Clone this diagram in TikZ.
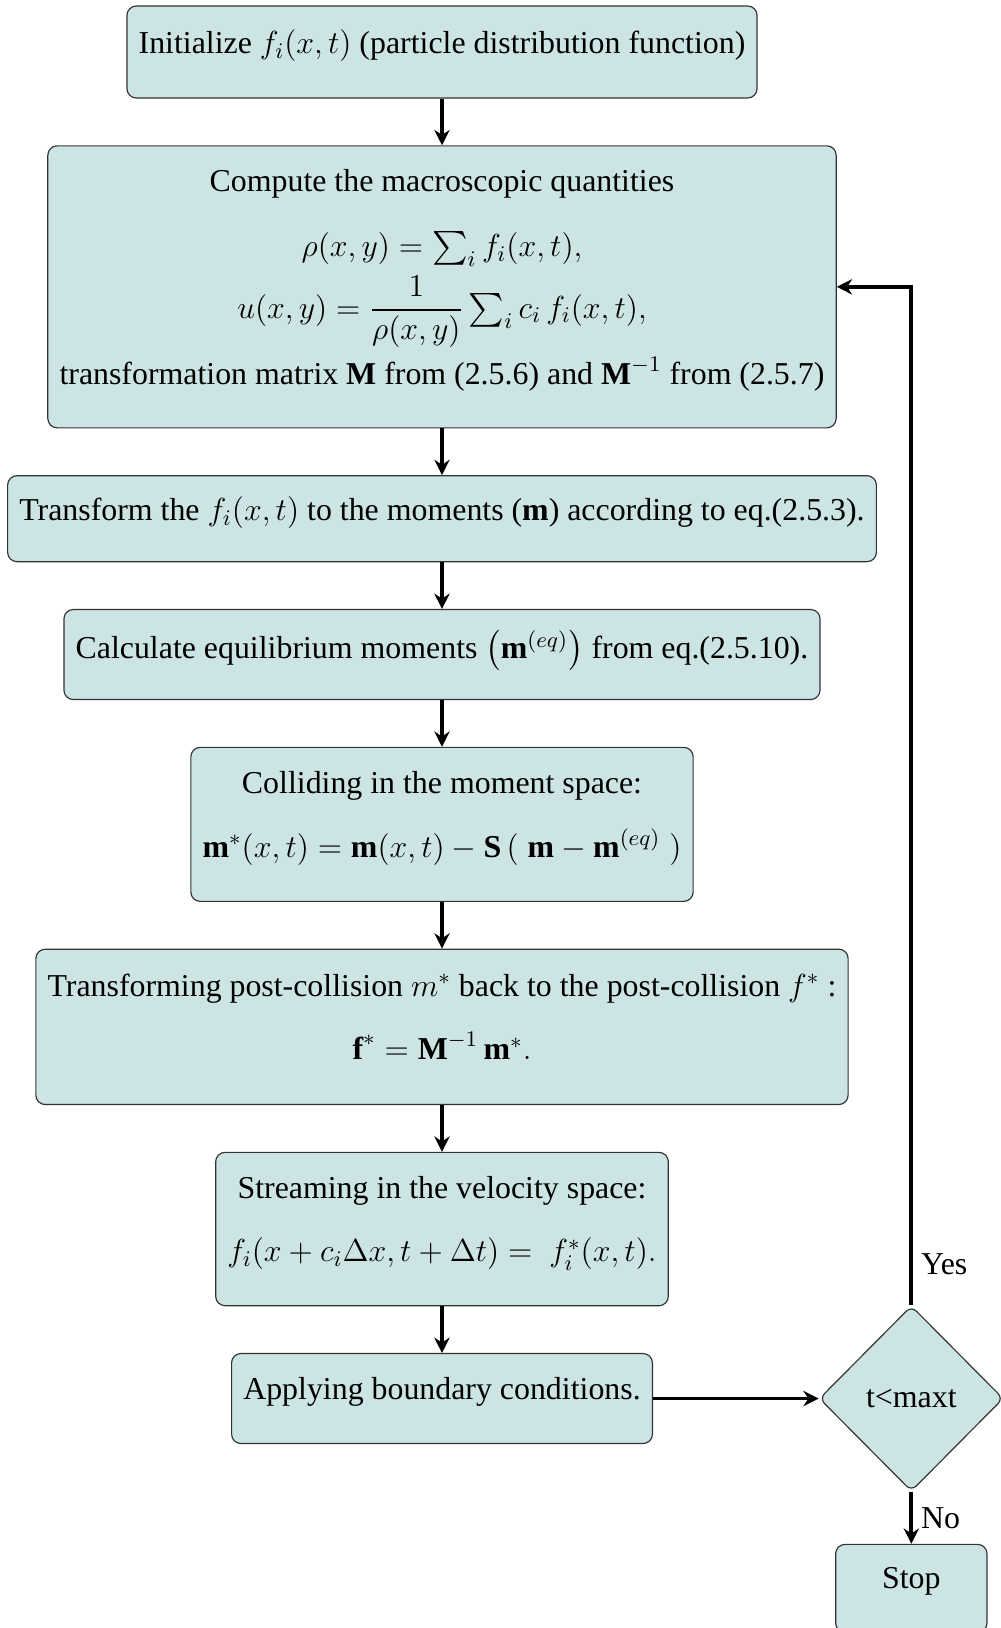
\RequirePackage{fix-cm}
\documentclass[tikz,border=0pt]{standalone}
\usepackage{amsmath}
\usepackage{fontspec}
\setmainfont{Liberation Serif}
\usetikzlibrary{positioning,shapes.geometric,arrows.meta}
\definecolor{boxfill}{RGB}{204,229,228}
\newcommand{\pad}{\rule[-3mm]{0pt}{0pt}}

\begin{document}
\begin{tikzpicture}[
    font=\fontsize{13.6}{16.5}\selectfont,
    box/.style={draw=black!80, rounded corners=4pt, fill=boxfill, align=center, line width=0.5pt, inner sep=5pt, execute at end node=\pad},
    decide/.style={draw=black!80, diamond, fill=boxfill, rounded corners=3pt, line width=0.5pt, minimum width=27.6mm, minimum height=27.8mm, inner sep=0pt},
    arrow/.style={-{Stealth[length=2.3mm,width=2.3mm]}, line width=1.6pt},
    node distance=7mm,
]
\useasboundingbox (0,0) rectangle (15,-24.42);
\node[box, minimum height=13.8mm] (init) at (6.63,-0.78) {Initialize $f_i(x,t)$ (particle distribution function)};
\node[box, below=of init, minimum height=42.3mm] (macro) {Compute the macroscopic quantities\\[4mm] $\rho(x,y)=\sum_i f_i(x,t),$\\[3pt] $u(x,y)=\dfrac{1}{\rho(x,y)}\sum_i c_i\,f_i(x,t),$\\[3pt] transformation matrix \textbf{M} from (2.5.6) and $\textbf{M}^{-1}$ from (2.5.7)};
\node[box, below=of macro, minimum height=12.9mm] (trans) {Transform the $f_i(x,t)$ to the moments ($\mathbf{m}$) according to eq.(2.5.3).};
\node[box, below=of trans, minimum height=13.5mm] (equil) {Calculate equilibrium moments $\left(\mathbf{m}^{(eq)}\right)$ from eq.(2.5.10).};
\node[box, below=of equil, minimum height=23.1mm] (collide) {Colliding in the moment space:\\[3.7mm] $\mathbf{m}^*(x,t)=\mathbf{m}(x,t)-\mathbf{S}\,(\;\mathbf{m}-\mathbf{m}^{(eq)}\;)$};
\node[box, below=of collide, minimum height=23.3mm] (post) {Transforming post-collision $m^*$ back to the post-collision $f^*$ :\\[3.7mm] $\textbf{f}^*=\textbf{M}^{-1}\,\mathbf{m}^*.$};
\node[box, below=of post, minimum height=23mm] (stream) {Streaming in the velocity space:\\[3.7mm] $f_i(x+c_i\Delta x,t+\Delta t)=\ f^*_i(x,t).$};
\node[box, below=of stream, minimum height=13.5mm] (bound) {Applying boundary conditions.};
\node[decide] (check) at (bound -| 13.67,0) {t<maxt};
\node[box, below=7.8mm of check, minimum width=22.7mm, minimum height=13.2mm] (stop) {Stop};

\draw[arrow] (init) -- (macro);
\draw[arrow] (macro) -- (trans);
\draw[arrow] (trans) -- (equil);
\draw[arrow] (equil) -- (collide);
\draw[arrow] (collide) -- (post);
\draw[arrow] (post) -- (stream);
\draw[arrow] (stream) -- (bound);
\draw[arrow] (bound) -- (check);
\draw[arrow] (check.north) |- node[pos=0.02, right] {Yes} (macro.east);
\draw[arrow] (check) -- node[right] {No} (stop);
\end{tikzpicture}
\end{document}
